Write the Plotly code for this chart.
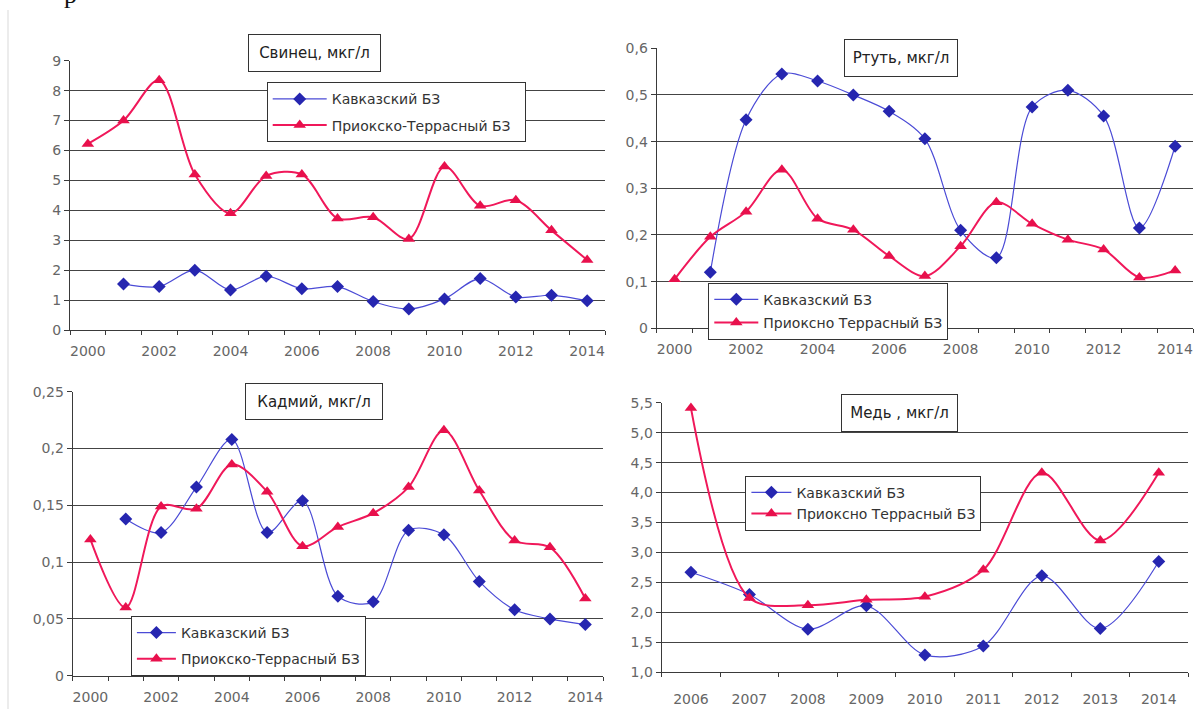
import plotly.graph_objects as go

# ---------------- data ----------------
years = [2000, 2001, 2002, 2003, 2004, 2005, 2006, 2007, 2008, 2009, 2010, 2011, 2012, 2013, 2014]
years_cu = [2006, 2007, 2008, 2009, 2010, 2011, 2012, 2013, 2014]

pb_kav = [None, 1.54, 1.45, 2.0, 1.34, 1.8, 1.38, 1.45, 0.95, 0.7, 1.04, 1.72, 1.1, 1.16, 0.98]
pb_pri = [6.22, 7.0, 8.35, 5.2, 3.9, 5.15, 5.2, 3.73, 3.77, 3.04, 5.46, 4.15, 4.34, 3.33, 2.34]

hg_kav = [None, 0.12, 0.447, 0.545, 0.53, 0.5, 0.465, 0.406, 0.21, 0.151, 0.474, 0.51, 0.455, 0.215, 0.39]
hg_pri = [0.105, 0.196, 0.25, 0.34, 0.235, 0.211, 0.155, 0.112, 0.176, 0.27, 0.224, 0.19, 0.169, 0.109, 0.124]

cd_kav = [None, 0.138, 0.126, 0.166, 0.208, 0.126, 0.154, 0.07, 0.065, 0.128, 0.124, 0.083, 0.058, 0.05, 0.045]
cd_pri = [0.12, 0.06, 0.149, 0.147, 0.186, 0.162, 0.114, 0.131, 0.143, 0.166, 0.216, 0.163, 0.119, 0.113, 0.068]

cu_kav = [2.67, 2.3, 1.72, 2.11, 1.29, 1.44, 2.61, 1.73, 2.85]
cu_pri = [5.41, 2.24, 2.12, 2.21, 2.26, 2.71, 4.33, 3.2, 4.33]

series_names = ["Кавказский БЗ", "Приокско-Террасный БЗ"]
series_names_alt = ["Кавказский БЗ", "Приоксно Террасный БЗ"]
titles = ["Свинец, мкг/л", "Ртуть, мкг/л", "Кадмий, мкг/л", "Медь , мкг/л"]

x_labels_main = [2000, 2002, 2004, 2006, 2008, 2010, 2012, 2014]
pb_ticks = [0, 1, 2, 3, 4, 5, 6, 7, 8, 9]
pb_text = ["0", "1", "2", "3", "4", "5", "6", "7", "8", "9"]
hg_ticks = [0, 0.1, 0.2, 0.3, 0.4, 0.5, 0.6]
hg_text = ["0", "0,1", "0,2", "0,3", "0,4", "0,5", "0,6"]
cd_ticks = [0, 0.05, 0.1, 0.15, 0.2, 0.25]
cd_text = ["0", "0,05", "0,1", "0,15", "0,2", "0,25"]
cu_ticks = [1.0, 1.5, 2.0, 2.5, 3.0, 3.5, 4.0, 4.5, 5.0, 5.5]
cu_text = ["1,0", "1,5", "2,0", "2,5", "3,0", "3,5", "4,0", "4,5", "5,0", "5,5"]

# ---------------- layout helpers ----------------
W, H = 1203, 709
def px_x(v):
    return v / W
def px_y(v):
    return 1 - v / H

BLUE_LINE = "#4b4bd6"
BLUE_MK = "#2626b0"
RED_LINE = "#f0185a"
RED_MK = "#e8104c"
GRID = "#444444"
AXIS = "#3a3a3a"
FONT = "DejaVu Sans"
PAD = "\u00a0"

fig = go.Figure()

def add_pair(xs, kav, pri, xa, ya, leg, names, tail=""):
    fig.add_trace(go.Scatter(
        x=xs, y=kav, name=names[0] + tail, mode="lines+markers",
        line=dict(color=BLUE_LINE, width=1.2, shape="spline", smoothing=0.9),
        marker=dict(symbol="diamond", size=10, color=BLUE_MK),
        xaxis=xa, yaxis=ya, legend=leg, legendgroup=leg + "a",
        cliponaxis=False, connectgaps=False))
    fig.add_trace(go.Scatter(
        x=xs, y=pri, name=names[1] + tail, mode="lines+markers",
        line=dict(color=RED_LINE, width=2, shape="spline", smoothing=0.9),
        marker=dict(symbol="triangle-up", size=11, color=RED_MK),
        xaxis=xa, yaxis=ya, legend=leg, legendgroup=leg + "b",
        cliponaxis=False, connectgaps=False))

add_pair(years, pb_kav, pb_pri, "x", "y", "legend", series_names, PAD * 2)
add_pair(years, hg_kav, hg_pri, "x2", "y2", "legend2", series_names_alt)
add_pair(years, cd_kav, cd_pri, "x3", "y3", "legend3", series_names)
add_pair(years_cu, cu_kav, cu_pri, "x4", "y4", "legend4", series_names_alt)

tickfont = dict(family=FONT, size=14, color="#666666")

def xaxis_cfg(dom, rng, vals, minor_vals, anchor, standoff):
    return dict(domain=[px_x(dom[0]), px_x(dom[1])], range=rng, anchor=anchor,
                automargin=False,
                tickmode="array", tickvals=vals, ticktext=[str(v) for v in vals],
                ticks="", showgrid=False, zeroline=False, ticklabelstandoff=standoff,
                showline=True, linecolor=AXIS, linewidth=1.2,
                tickfont=tickfont,
                minor=dict(tickmode="array", tickvals=minor_vals, ticks="outside",
                           ticklen=4, tickcolor=AXIS, tickwidth=1, showgrid=False))

def yaxis_cfg(dom, rng, vals, text, anchor):
    return dict(domain=[px_y(dom[1]), px_y(dom[0])], range=rng,
                automargin=False,
                tickmode="array", tickvals=vals, ticktext=text,
                ticks="outside", ticklen=5, tickcolor=AXIS,
                showgrid=True, gridcolor=GRID, gridwidth=1.1, zeroline=False,
                showline=True, linecolor=AXIS, linewidth=1.2,
                tickfont=tickfont, anchor=anchor)

bounds_main = [y - 0.5 for y in years] + [2014.5]
bounds_cu = [y - 0.5 for y in years_cu] + [2014.5]

fig.update_layout(
    xaxis=xaxis_cfg((70, 605), [1999.5, 2014.5], x_labels_main, bounds_main, "y", 8),
    yaxis=yaxis_cfg((60.7, 330), [0, 9], pb_ticks, pb_text, "x"),
    xaxis2=xaxis_cfg((656.7, 1193), [1999.5, 2014.5], x_labels_main, bounds_main, "y2", 8),
    yaxis2=yaxis_cfg((48.3, 328.3), [0, 0.6], hg_ticks, hg_text, "x2"),
    xaxis3=xaxis_cfg((72.7, 603), [1999.5, 2014.5], x_labels_main, bounds_main, "y3", 8),
    yaxis3=yaxis_cfg((391.7, 675.7), [0, 0.25], cd_ticks, cd_text, "x3"),
    xaxis4=xaxis_cfg((661.7, 1188), [2005.5, 2014.5], years_cu, bounds_cu, "y4", 14),
    yaxis4=yaxis_cfg((402.7, 672.3), [1, 5.5], cu_ticks, cu_text, "x4"),
)

legfont = dict(family=FONT, size=14, color="#333333")
def legend_cfg(left, top, itemwidth, gap):
    return dict(x=px_x(left), y=px_y(top), xanchor="left", yanchor="top",
                xref="paper", yref="paper",
                bgcolor="white", bordercolor="#333333", borderwidth=1,
                font=legfont, itemwidth=itemwidth, traceorder="grouped",
                tracegroupgap=gap)

fig.update_layout(
    legend=legend_cfg(266.7, 82.3, 54, 5),
    legend2=legend_cfg(708.3, 282.7, 44, 2),
    legend3=legend_cfg(130.9, 616, 39, 5),
    legend4=legend_cfg(745.4, 475.7, 40, 0),
)

# title boxes
title_boxes = [
    (314.4, 53.0, 131, 36),
    (901.4, 58.3, 112, 36),
    (314.3, 401.4, 136, 35),
    (899.8, 412.5, 115, 36),
]
for t, (cx, cy, w, h) in zip(titles, title_boxes):
    fig.add_annotation(text=t, x=px_x(cx), y=px_y(cy), xref="paper", yref="paper",
                       xanchor="center", yanchor="middle", showarrow=False,
                       width=w, height=h, borderpad=0,
                       bgcolor="white", bordercolor="#333333", borderwidth=1,
                       font=dict(family=FONT, size=15, color="#222222"))

# cut-off letter from the scanned page above
fig.add_annotation(text="р", x=px_x(70), y=px_y(-6), xref="paper", yref="paper",
                   xanchor="center", yanchor="middle", showarrow=False,
                   font=dict(family="Liberation Serif", size=26, color="#111111"))

fig.add_shape(type="line", xref="paper", yref="paper",
              x0=px_x(8), x1=px_x(8), y0=px_y(10), y1=px_y(709),
              line=dict(color="#ececec", width=2), layer="below")

fig.update_layout(width=W, height=H, margin=dict(l=0, r=0, t=0, b=0, pad=0, autoexpand=False),
                  paper_bgcolor="white", plot_bgcolor="white",
                  showlegend=True, font=dict(family=FONT))

fig.write_html(
    "out.html",
    config={"displayModeBar": False},
    post_script="document.body.style.margin='0';document.body.style.overflow='hidden';",
)
